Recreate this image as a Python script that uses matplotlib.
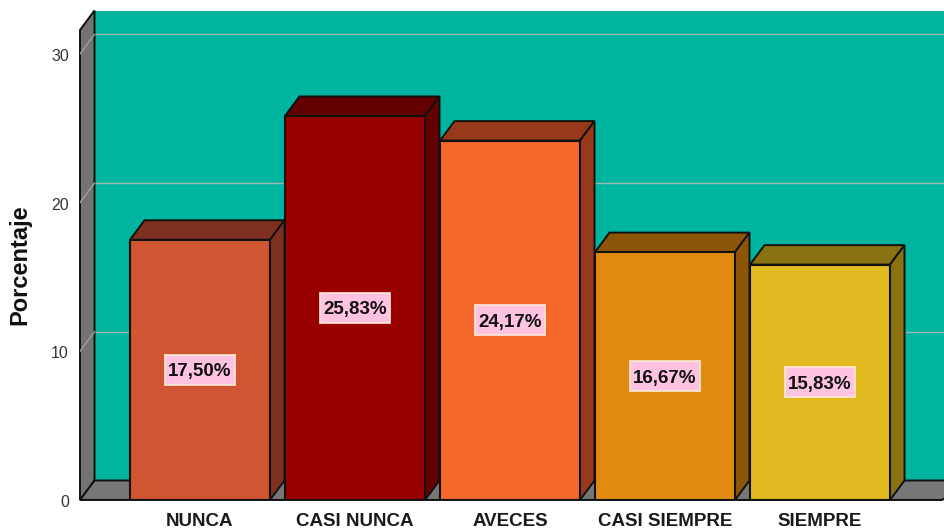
import matplotlib
matplotlib.use('Agg')
import matplotlib.pyplot as plt
from matplotlib.patches import Polygon, Rectangle
from matplotlib.transforms import ScaledTranslation

categories = ['NUNCA', 'CASI NUNCA', 'AVECES', 'CASI SIEMPRE', 'SIEMPRE']
values = [17.50, 25.83, 24.17, 16.67, 15.83]
labels = ['17,50%', '25,83%', '24,17%', '16,67%', '15,83%']
front_colors = ['#D05532', '#990000', '#F5682B', '#E08A10', '#E0BA1E']
shade_colors = ['#803020', '#640000', '#98391C', '#8C5508', '#8A7212']
y_ticks = [0, 10, 20, 30]

plt.rcParams['font.family'] = ['Liberation Sans', 'DejaVu Sans']

fig = plt.figure(figsize=(9.45, 5.30), dpi=100)
ax = fig.add_axes([80 / 945, 30 / 530, 865 / 945, 489 / 530])

# pixels per unit on each axis
px_x = 155
px_y = 14.87
ax.set_xlim(-120 / px_x, 745 / px_x)
ax.set_ylim(0, 489 / px_y)

# depth of the fake 3D box
dx = 14.5 / px_x
dy = 19.5 / px_y
x_left = -120 / px_x
x_right = 745 / px_x
y_top = 470 / px_y
bar_w = 140 / px_x
edge = '#111111'


def poly(points, color, z):
    ax.add_patch(Polygon(points, closed=True, facecolor=color, edgecolor=edge,
                         linewidth=1.4, zorder=z, clip_on=False))


# back wall, side wall, floor
ax.add_patch(Polygon([(x_left + dx, dy), (x_left + dx, y_top + dy),
                      (x_right + dx, y_top + dy), (x_right + dx, dy)],
                     closed=True, facecolor='#00B5A0', edgecolor=edge, linewidth=1.5, zorder=1))
poly([(x_left, 0), (x_left, y_top), (x_left + dx, y_top + dy), (x_left + dx, dy)], '#737373', 2)
poly([(x_left, 0), (x_left + dx, dy), (x_right + 2 * dx, dy), (x_right - 0.02, 0)], '#777777', 2)

# grid lines on wall
for t in y_ticks[1:]:
    ax.plot([x_left + dx, x_right], [t + dy, t + dy], color='#9FB8B2', lw=1.0, zorder=1.5)
    ax.plot([x_left, x_left + dx], [t, t + dy], color='#A0A0A0', lw=1.0, zorder=3)

# bars
xs = list(range(len(categories)))
ax.bar(xs, values, width=bar_w, color=front_colors, edgecolor=edge, linewidth=1.5, zorder=5)
for i, v in enumerate(values):
    r = i + bar_w / 2
    l = i - bar_w / 2
    poly([(l, v), (l + dx, v + dy), (r + dx, v + dy), (r, v)], shade_colors[i], 4)
    poly([(r, 0), (r + dx, dy), (r + dx, v + dy), (r, v)], shade_colors[i], 4)
    # label box is centred on the bar
    ax.add_patch(Rectangle((i - 35 / px_x, v / 2 - 15 / px_y), 70 / px_x, 30 / px_y,
                           facecolor='#FFC2E0', edgecolor='#FBE9D8', linewidth=1.2, zorder=6))
    ax.text(i, v / 2, labels[i], ha='center', va='center_baseline', fontsize=13.5, fontweight='bold',
            color='#111111', zorder=7)

ax.plot([x_left, x_right - 0.02], [0, 0], color=edge, lw=1.5, zorder=4.5)

ax.set_xticks(xs)
ax.set_xticklabels(categories, fontsize=13.5, fontweight='bold', color='#1A1A1A')
ax.set_yticks(y_ticks)
ax.set_yticklabels([str(t) for t in y_ticks], fontsize=11.5, color='#333333')
ax.tick_params(axis='both', length=0)
ax.tick_params(axis='x', pad=9)
ax.tick_params(axis='y', pad=8)
for lab in ax.get_yticklabels():
    lab.set_transform(lab.get_transform() + ScaledTranslation(0, -0.8 / 72, fig.dpi_scale_trans))
for s in ax.spines.values():
    s.set_visible(False)
ax.patch.set_visible(False)

fig.text(20 / 945, 1 - 265 / 530, 'Porcentaje', rotation=90, ha='center', va='center',
         fontsize=17, fontweight='bold', color='#111111')

fig.savefig('out.png', dpi=100)
